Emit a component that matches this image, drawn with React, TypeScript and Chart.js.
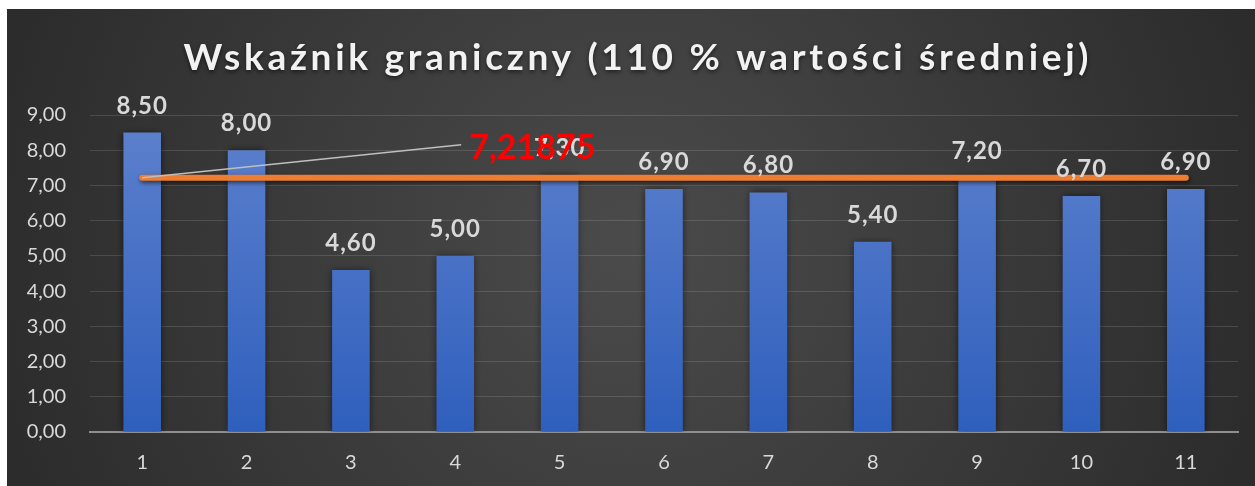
import { useEffect, useRef } from "react";
import { Chart, registerables } from "chart.js";

Chart.register(...registerables);

const categories = ["1", "2", "3", "4", "5", "6", "7", "8", "9", "10", "11"];
const values = [8.5, 8.0, 4.6, 5.0, 7.3, 6.9, 6.8, 5.4, 7.2, 6.7, 6.9];
const threshold = [7.21875, 7.21875, 7.21875, 7.21875, 7.21875, 7.21875, 7.21875, 7.21875, 7.21875, 7.21875, 7.21875];
const thresholdLabel = "7,21875";
const yMin = 0;
const yMax = 9;
const yStep = 1;
const title = "Wskaźnik graniczny (110 % wartości średniej)";

const fmt = (v: number) => v.toFixed(2).replace(".", ",");

const W = 1248;
const H = 477;

const decorPlugin = {
  id: "decor",
  beforeDraw(chart: any) {
    const { ctx } = chart;
    ctx.save();
    const g = ctx.createRadialGradient(W / 2, H / 2, 20, W / 2, H / 2, W * 0.62);
    g.addColorStop(0, "#4a4a4a");
    g.addColorStop(1, "#262626");
    ctx.fillStyle = g;
    ctx.fillRect(0, 0, W, H);
    ctx.restore();
  },
  beforeDatasetDraw(chart: any, args: any) {
    const { ctx } = chart;
    ctx.save();
    if (args.index === 0) {
      ctx.shadowColor = "rgba(0,0,0,0.55)";
      ctx.shadowBlur = 7;
      ctx.shadowOffsetX = 0;
      ctx.shadowOffsetY = 0;
    } else {
      ctx.shadowColor = "rgba(0,0,0,0.6)";
      ctx.shadowBlur = 4;
      ctx.shadowOffsetX = 1;
      ctx.shadowOffsetY = 2;
    }
  },
  afterDatasetDraw(chart: any) {
    chart.ctx.restore();
  },
  afterDatasetsDraw(chart: any) {
    const { ctx } = chart;
    // bar value labels
    const barMeta = chart.getDatasetMeta(0);
    ctx.save();
    ctx.font = "bold 24px Lato";
    (ctx as any).letterSpacing = "1px";
    ctx.fillStyle = "#d9d9d9";
    ctx.textAlign = "center";
    ctx.textBaseline = "alphabetic";
    barMeta.data.forEach((el: any, i: number) => {
      ctx.fillText(fmt(values[i]), el.x, el.y - 19);
    });
    ctx.restore();

    // title
    ctx.save();
    ctx.font = "bold 37px Lato";
    (ctx as any).letterSpacing = "0px";
    const w0 = ctx.measureText(title).width;
    const n = Array.from(title).length;
    const sp = Math.max(0, (905 - w0) / (n - 1));
    (ctx as any).letterSpacing = sp.toFixed(2) + "px";
    ctx.fillStyle = "#f2f2f2";
    ctx.shadowColor = "rgba(0,0,0,0.55)";
    ctx.shadowBlur = 4;
    ctx.shadowOffsetY = 2;
    ctx.textAlign = "left";
    ctx.textBaseline = "alphabetic";
    ctx.fillText(title, 629 - 905 / 2, 61);
    ctx.restore();

    // threshold leader line + label
    const lineMeta = chart.getDatasetMeta(1);
    const p0 = lineMeta.data[0];
    ctx.save();
    ctx.strokeStyle = "#bfbfbf";
    ctx.lineWidth = 1.5;
    ctx.beginPath();
    ctx.moveTo(p0.x, p0.y);
    ctx.lineTo(p0.x + 319, p0.y - 33);
    ctx.stroke();
    ctx.font = "bold 34px Lato";
    ctx.fillStyle = "#ff0000";
    ctx.textAlign = "left";
    ctx.textBaseline = "alphabetic";
    ctx.fillText(thresholdLabel, p0.x + 327, p0.y - 19);
    ctx.restore();
  },
};

export default function App() {
  const ref = useRef<HTMLCanvasElement | null>(null);
  useEffect(() => {
    if (!ref.current) return;
    const chart = new Chart(ref.current, {
      type: "bar",
      data: {
        labels: categories,
        datasets: [
          {
            type: "bar",
            data: values,
            order: 2,
            backgroundColor: (c: any) => {
              const ca = c.chart.chartArea;
              if (!ca) return "#4472c4";
              const g = c.chart.ctx.createLinearGradient(0, ca.top, 0, ca.bottom);
              g.addColorStop(0, "#5d81cd");
              g.addColorStop(1, "#2f5fbd");
              return g;
            },
            borderWidth: 0,
            categoryPercentage: 1,
            barPercentage: 0.36,
          } as any,
          {
            type: "line",
            data: threshold,
            order: 1,
            borderColor: "#ed7d31",
            borderWidth: 6,
            borderCapStyle: "round",
            pointRadius: 0,
            fill: false,
          } as any,
        ],
      },
      options: {
        responsive: false,
        devicePixelRatio: 1,
        animation: false,
        layout: { padding: { top: 106, right: 17, left: 0, bottom: 0 } },
        plugins: {
          legend: { display: false },
          title: { display: false },
          tooltip: { enabled: false },
        },
        scales: {
          x: {
            offset: true,
            grid: { display: false, drawTicks: false },
            border: { display: true, color: "#8f8f8f", width: 2 },
            ticks: { color: "#d9d9d9", font: { family: "Lato", size: 20 }, padding: 19 },
            afterFit: (s: any) => {
              s.height = 54;
            },
          },
          y: {
            min: yMin,
            max: yMax,
            grid: {
              drawTicks: false,
              color: (c: any) => (c.tick && c.tick.value === 0 ? "rgba(0,0,0,0)" : "rgba(255,255,255,0.13)"),
              lineWidth: 1,
            },
            border: { display: false },
            ticks: {
              stepSize: yStep,
              color: "#d9d9d9",
              font: { family: "Lato", size: 20 },
              padding: 24,
              callback: (v: any) => fmt(Number(v)),
            },
            afterFit: (s: any) => {
              s.width = 83;
            },
          },
        },
      },
      plugins: [decorPlugin],
    } as any);
    return () => chart.destroy();
  }, []);
  return (
    <div style={{ position: "absolute", left: 7, top: 9, width: W, height: H }}>
      <canvas ref={ref} width={W} height={H} style={{ display: "block", width: W, height: H }} />
    </div>
  );
}
